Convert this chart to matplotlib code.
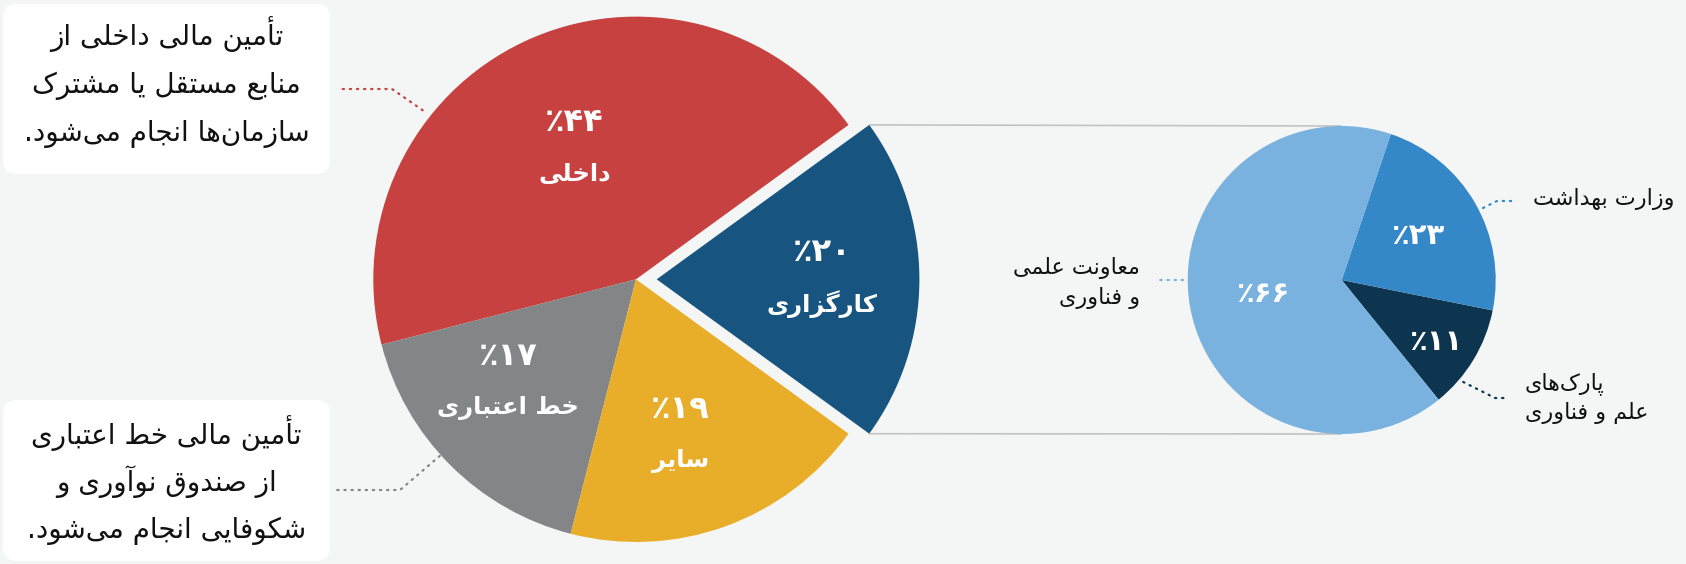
import numpy as np
import matplotlib.pyplot as plt
from matplotlib.patches import FancyBboxPatch

# funding split (drawn counter-clockwise from the exploded slice)
main_labels = ["کارگزاری", "داخلی", "خط اعتباری", "سایر"]
main_values = [20, 44, 17, 19]
main_colors = ["#175580", "#c64140", "#848586", "#e9ae29"]

# breakdown of the exploded slice
sub_labels = ["پارک‌های\nعلم و فناوری", "وزارت بهداشت", "معاونت علمی\nو فناوری"]
sub_values = [11, 23, 66]
sub_colors = ["#0d354f", "#3588c7", "#79b2df"]

note_top = ["تأمین مالی داخلی از", "منابع مستقل یا مشترک", "سازمان‌ها انجام می‌شود."]
note_bottom = ["تأمین مالی خط اعتباری", "از صندوق نوآوری و", "شکوفایی انجام می‌شود."]

W, H = 1686, 564
BG = "#f4f6f5"


# --- minimal Persian shaping: pick contextual glyphs, then reverse for RTL ---
_RIGHT = {
    "ا": (0xFE8D, 0xFE8E), "آ": (0xFE81, 0xFE82), "أ": (0xFE83, 0xFE84),
    "د": (0xFEA9, 0xFEAA), "ذ": (0xFEAB, 0xFEAC), "ر": (0xFEAD, 0xFEAE),
    "ز": (0xFEAF, 0xFEB0), "ژ": (0xFB8A, 0xFB8B), "و": (0xFEED, 0xFEEE),
}
_DUAL_START = {
    "ب": 0xFE8F, "پ": 0xFB56, "ت": 0xFE95, "ث": 0xFE99, "ج": 0xFE9D, "چ": 0xFB7A,
    "ح": 0xFEA1, "خ": 0xFEA5, "س": 0xFEB1, "ش": 0xFEB5, "ص": 0xFEB9, "ض": 0xFEBD,
    "ط": 0xFEC1, "ظ": 0xFEC5, "ع": 0xFEC9, "غ": 0xFECD, "ف": 0xFED1, "ق": 0xFED5,
    "ک": 0xFB8E, "گ": 0xFB92, "ل": 0xFEDD, "م": 0xFEE1, "ن": 0xFEE5, "ه": 0xFEE9,
    "ی": 0xFBFC, "ي": 0xFEF1,
}
_FORMS = dict(_RIGHT)
_FORMS.update({c: tuple(range(s, s + 4)) for c, s in _DUAL_START.items()})


def _shape_line(line):
    out = []
    for i, ch in enumerate(line):
        forms = _FORMS.get(ch)
        if forms is None:
            if ch != "\u200c":
                out.append(ch)
            continue
        prev_join = i > 0 and line[i - 1] in _DUAL_START
        next_join = ch in _DUAL_START and i + 1 < len(line) and line[i + 1] in _FORMS
        if prev_join and next_join:
            idx = 3
        elif prev_join:
            idx = 1
        elif next_join:
            idx = 2
        else:
            idx = 0
        out.append(chr(forms[idx]))
    return "".join(out)[::-1]


def fa(text):
    return "\n".join(_shape_line(line) for line in text.split("\n"))


def fa_pct(value):
    # percent sign sits on the left when read right-to-left
    return "٪" + str(value).translate(str.maketrans("0123456789", "۰۱۲۳۴۵۶۷۸۹"))


def px(x, y):
    # pixel position (top-left origin) -> data coords
    return x, H - y


plt.rcParams["font.family"] = ["DejaVu Sans"]

fig = plt.figure(figsize=(W / 100, H / 100), dpi=100)
fig.patch.set_facecolor(BG)
ax = fig.add_axes([0, 0, 1, 1])
ax.set_facecolor(BG)

main_center = px(636, 279.3)
main_r = 262.7
sub_center = px(1341.7, 280)
sub_r = 154
explode = [20.7, 0, 0, 0]  # data units

main_wedges, _ = ax.pie(main_values, colors=main_colors, startangle=-36, counterclock=True,
                        explode=explode, center=main_center, radius=main_r, frame=True,
                        wedgeprops=dict(linewidth=0))
sub_wedges, _ = ax.pie(sub_values, colors=sub_colors, startangle=-51, counterclock=True,
                       center=sub_center, radius=sub_r, frame=True,
                       wedgeprops=dict(linewidth=0))

# slice labels: percentage above, name below; (angle shift, radius fraction)
label_pos = [(0, 0.63), (0, 0.55), (-6, 0.625), (-4, 0.62)]
for w, name, val, (dt, lr) in zip(main_wedges, main_labels, main_values, label_pos):
    ang = np.deg2rad((w.theta1 + w.theta2) / 2 + dt)
    cx, cy = w.center
    tx = cx + lr * w.r * np.cos(ang)
    ty = cy + lr * w.r * np.sin(ang)
    ax.annotate(fa_pct(val), (tx, ty), xytext=(0, 19), textcoords="offset points",
                ha="center", va="center", color="white", fontsize=23, fontweight="bold")
    ax.annotate(fa(name), (tx, ty), xytext=(0, -18), textcoords="offset points",
                ha="center", va="center", color="white", fontsize=17.5, fontweight="bold")

sub_label_pos = [(-2, 0.73), (0, 0.57), (0, 0.52)]
for w, val, (dt, lr) in zip(sub_wedges, sub_values, sub_label_pos):
    ang = np.deg2rad((w.theta1 + w.theta2) / 2 + dt)
    cx, cy = w.center
    ax.text(cx + lr * w.r * np.cos(ang), cy + lr * w.r * np.sin(ang), fa_pct(val),
            ha="center", va="center", color="white", fontsize=21, fontweight="bold")

# connector lines from the exploded slice to the breakdown pie
blue = main_wedges[0]
for theta, sign in ((blue.theta2, 1), (blue.theta1, -1)):
    a = np.deg2rad(theta)
    x0 = blue.center[0] + blue.r * np.cos(a)
    y0 = blue.center[1] + blue.r * np.sin(a)
    ax.plot([x0, sub_center[0]], [y0, sub_center[1] + sign * sub_r],
            color="#c3c3c3", lw=1.2, zorder=0.5, solid_capstyle="butt")


def leader(center, r, angle, pts, color):
    a = np.deg2rad(angle)
    xs = [center[0] + r * np.cos(a)] + [p[0] for p in pts]
    ys = [center[1] + r * np.sin(a)] + [p[1] for p in pts]
    ax.plot(xs, ys, color=color, lw=1.6, linestyle=(0, (0.6, 2.6)),
            dash_capstyle="round", zorder=1)


# breakdown labels
sub_text = [
    (px(1525, 398), "left"),
    (px(1533, 199), "left"),
    (px(1140, 283), "right"),
]
sub_leaders = [
    (-40, [px(1495, 398), px(1504, 398)]),
    (27, [px(1497, 201), px(1515, 201)]),
    (180, [px(1160, 280)]),
]
for (pos, ha), name, color, (ang, pts) in zip(sub_text, sub_labels, sub_colors, sub_leaders):
    ax.text(pos[0], pos[1], fa(name), ha=ha, va="center", multialignment=ha,
            fontsize=16, color="#111111", linespacing=1.45)
    leader(sub_center, sub_r * 1.03, ang, pts, color)

# note boxes on the left, one baseline per line so the spacing stays even
notes = [((3, 4, 330, 174), 44.5, 48, note_top), ((3, 400, 330, 561), 444, 47, note_bottom)]
for (x0, y0, x1, y1), base, step, lines in notes:
    bx, by = px(x0, y1)
    ax.add_patch(FancyBboxPatch((bx, by), x1 - x0, y1 - y0,
                                boxstyle="round,pad=0,rounding_size=14",
                                facecolor="white", edgecolor="none", zorder=1))
    for i, line in enumerate(lines):
        ax.text((x0 + x1) / 2, H - (base + i * step), fa(line), ha="center", va="baseline",
                fontsize=20, color="#111111", zorder=2)

leader(main_center, main_r * 1.036, 141.6, [px(392, 89), px(337, 89)], main_colors[1])
leader(main_center, main_r * 1.005, 222, [px(400, 490), px(333, 490)], main_colors[2])

ax.set_xlim(0, W)
ax.set_ylim(0, H)
ax.set_aspect("equal")
ax.axis("off")

fig.savefig("out.png", dpi=100, facecolor=BG)
